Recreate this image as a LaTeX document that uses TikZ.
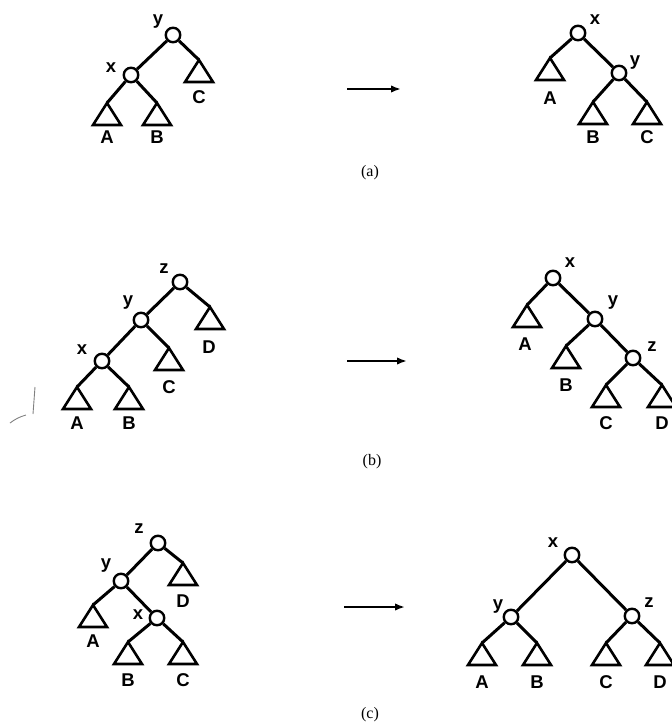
\documentclass[tikz,border=0pt]{standalone}
\usepackage{fontspec}
\setmainfont{Liberation Serif}
\newfontfamily\labfont{Liberation Sans}
\usetikzlibrary{arrows.meta}
\tikzset{
 nd/.style={circle,draw,line width=2.4pt,minimum size=14.5pt,inner sep=0pt},
 edge/.style={line width=3pt},
 tri/.style={line width=2.6pt,line join=miter},
 lab/.style={font=\labfont\bfseries\fontsize{18.5}{18.5}\selectfont,inner sep=0pt},
 capt/.style={font=\fontsize{16}{18}\selectfont,inner sep=0pt},
 trans/.style={line width=2.2pt,-{Latex[length=10pt,width=7.5pt]}},
 stray/.style={line width=0.9pt,gray},
}
\newcommand\subtr[2]{\coordinate (#1) at #2; \draw[tri] (#1) -- ++(-14,22) -- ++(28,0) -- cycle;}
\begin{document}
\begin{tikzpicture}[x=1pt,y=-1pt]
\useasboundingbox (0,0) rectangle (671,727);
% ---------------- (a) left
\node[nd] (aLy) at (173,35) {};
\node[nd] (aLx) at (131,75) {};
\subtr{aLA}{(107,103)}
\subtr{aLB}{(157,103)}
\subtr{aLC}{(199,60)}
\draw[edge] (aLy) -- (aLx);
\draw[edge] (aLy) -- (aLC);
\draw[edge] (aLx) -- (aLA);
\draw[edge] (aLx) -- (aLB);
\node[lab] (aLly) at (158,22) {y};
\node[lab] (aLlx) at (111,68) {x};
\node[lab] (aLlA) at (107,137) {A};
\node[lab] (aLlB) at (157,137) {B};
\node[lab] (aLlC) at (199,97) {C};
% ---------------- (a) right
\node[nd] (aRx) at (578,33) {};
\node[nd] (aRy) at (619,73) {};
\subtr{aRA}{(550,58)}
\subtr{aRB}{(593,102)}
\subtr{aRC}{(647,102)}
\draw[edge] (aRx) -- (aRy);
\draw[edge] (aRx) -- (aRA);
\draw[edge] (aRy) -- (aRB);
\draw[edge] (aRy) -- (aRC);
\node[lab] (aRlx) at (595,20) {x};
\node[lab] (aRly) at (635,63) {y};
\node[lab] (aRlA) at (550,98) {A};
\node[lab] (aRlB) at (593,137) {B};
\node[lab] (aRlC) at (647,137) {C};
% arrow and caption (a)
\coordinate (aS) at (347,89);
\coordinate (aE) at (401,89);
\draw[trans] (aS) -- (aE);
\node[capt] (capa) at (370,173) {(a)};
% ---------------- (b) left
\node[nd] (bLz) at (180,282) {};
\node[nd] (bLy) at (141,320) {};
\node[nd] (bLx) at (102,361) {};
\subtr{bLD}{(210,307)}
\subtr{bLC}{(169,348)}
\subtr{bLA}{(77,387)}
\subtr{bLB}{(129,387)}
\draw[edge] (bLz) -- (bLy);
\draw[edge] (bLz) -- (bLD);
\draw[edge] (bLy) -- (bLx);
\draw[edge] (bLy) -- (bLC);
\draw[edge] (bLx) -- (bLA);
\draw[edge] (bLx) -- (bLB);
\node[lab] (bLlz) at (164,269) {z};
\node[lab] (bLly) at (128,303) {y};
\node[lab] (bLlx) at (82,350) {x};
\node[lab] (bLlD) at (209,347) {D};
\node[lab] (bLlC) at (169,387) {C};
\node[lab] (bLlA) at (77,423) {A};
\node[lab] (bLlB) at (129,423) {B};
% stray marks of the scan
\coordinate (s1) at (35,387);
\coordinate (s2) at (33,414);
\draw[stray] (s1) -- (s2);
\coordinate (s3) at (10,423);
\coordinate (s4) at (26,415);
\draw[stray] (s3) to[bend left=10] (s4);
% ---------------- (b) right
\node[nd] (bRx) at (553,278) {};
\node[nd] (bRy) at (595,319) {};
\node[nd] (bRz) at (633,358) {};
\subtr{bRA}{(527,305)}
\subtr{bRB}{(566,346)}
\subtr{bRC}{(606,385)}
\subtr{bRD}{(662,385)}
\draw[edge] (bRx) -- (bRy);
\draw[edge] (bRx) -- (bRA);
\draw[edge] (bRy) -- (bRz);
\draw[edge] (bRy) -- (bRB);
\draw[edge] (bRz) -- (bRC);
\draw[edge] (bRz) -- (bRD);
\node[lab] (bRlx) at (570,263) {x};
\node[lab] (bRly) at (613,303) {y};
\node[lab] (bRlz) at (652,347) {z};
\node[lab] (bRlA) at (525,344) {A};
\node[lab] (bRlB) at (566,385) {B};
\node[lab] (bRlC) at (606,423) {C};
\node[lab] (bRlD) at (662,423) {D};
% arrow and caption (b)
\coordinate (bS) at (347,361);
\coordinate (bE) at (407,361);
\draw[trans] (bS) -- (bE);
\node[capt] (capb) at (372,462) {(b)};
% ---------------- (c) left
\node[nd] (cLz) at (158,543) {};
\node[nd] (cLy) at (121,581) {};
\node[nd] (cLx) at (157,618) {};
\subtr{cLD}{(183,563)}
\subtr{cLA}{(93,605)}
\subtr{cLB}{(128,642)}
\subtr{cLC}{(183,642)}
\draw[edge] (cLz) -- (cLy);
\draw[edge] (cLz) -- (cLD);
\draw[edge] (cLy) -- (cLA);
\draw[edge] (cLy) -- (cLx);
\draw[edge] (cLx) -- (cLB);
\draw[edge] (cLx) -- (cLC);
\node[lab] (cLlz) at (139,529) {z};
\node[lab] (cLly) at (106,566) {y};
\node[lab] (cLlx) at (138,615) {x};
\node[lab] (cLlD) at (183,601) {D};
\node[lab] (cLlA) at (93,641) {A};
\node[lab] (cLlB) at (128,680) {B};
\node[lab] (cLlC) at (183,680) {C};
% ---------------- (c) right
\node[nd] (cRx) at (572,555) {};
\node[nd] (cRy) at (511,617) {};
\node[nd] (cRz) at (632,616) {};
\subtr{cRA}{(482,643)}
\subtr{cRB}{(537,643)}
\subtr{cRC}{(606,643)}
\subtr{cRD}{(660,643)}
\draw[edge] (cRx) -- (cRy);
\draw[edge] (cRx) -- (cRz);
\draw[edge] (cRy) -- (cRA);
\draw[edge] (cRy) -- (cRB);
\draw[edge] (cRz) -- (cRC);
\draw[edge] (cRz) -- (cRD);
\node[lab] (cRlx) at (553,543) {x};
\node[lab] (cRly) at (498,607) {y};
\node[lab] (cRlz) at (649,603) {z};
\node[lab] (cRlA) at (482,682) {A};
\node[lab] (cRlB) at (537,682) {B};
\node[lab] (cRlC) at (606,682) {C};
\node[lab] (cRlD) at (660,682) {D};
% arrow and caption (c)
\coordinate (cS) at (344,607);
\coordinate (cE) at (405,607);
\draw[trans] (cS) -- (cE);
\node[capt] (capc) at (370,715) {(c)};
\end{tikzpicture}
\end{document}
